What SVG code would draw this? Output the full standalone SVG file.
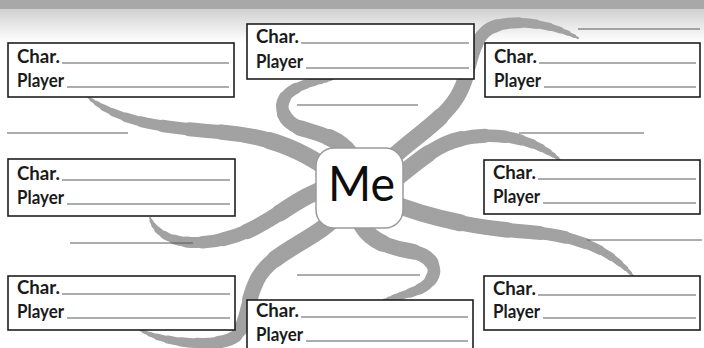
<svg xmlns="http://www.w3.org/2000/svg" width="704" height="348" viewBox="0 0 704 348">
<defs>
<linearGradient id="hdr" x1="0" y1="0" x2="0" y2="1">
<stop offset="0" stop-color="#cfcfcf"/>
<stop offset="1" stop-color="#ffffff"/>
</linearGradient>
<style>
.box{fill:#fff;stroke:#1e1e1e;stroke-width:1.6}
.lbl{font-family:Lato,"Liberation Sans",sans-serif;font-weight:bold;font-size:19px;fill:#1a1a1a}
.ln{stroke:#5a5a5a;stroke-width:1}
.arm use{fill:none;stroke:#a2a2a2;stroke-linecap:round;stroke-linejoin:round}
.l1{stroke-width:17;stroke-dasharray:30 300}
.l2{stroke-width:15.5;stroke-dasharray:48 300}
.l3{stroke-width:14;stroke-dasharray:60 300}
.l4{stroke-width:12.5;stroke-dasharray:70 300}
.l5{stroke-width:11;stroke-dasharray:78 300}
.l6{stroke-width:9.5;stroke-dasharray:84 300}
.l7{stroke-width:8;stroke-dasharray:89 300}
.l8{stroke-width:6.5;stroke-dasharray:93 300}
.l9{stroke-width:5;stroke-dasharray:96 300}
.l10{stroke-width:3.5;stroke-dasharray:98.5 300}
.l11{stroke-width:2}
.me{fill:#fff;stroke:#9a9a9a;stroke-width:1.5}
.metxt{font-family:Lato,"Liberation Sans",sans-serif;font-size:48px;fill:#0d0d0d}
</style>
<path id="a1" pathLength="100" d="M 340,178 C 305,150 270,136 220,132 C 170,128 120,124 88,97"/>
<path id="a2" pathLength="100" d="M 358,178 C 356,140 322,135 300,128 C 280,121 276,100 293,90 C 306,82 320,81 333,79"/>
<path id="a3" pathLength="100" d="M 378,172 C 400,145 440,125 457,97 C 472,72 468,48 485,32 C 500,18 545,20 578,38"/>
<path id="a4" pathLength="100" d="M 380,190 C 410,170 430,146 460,139 C 500,130 535,140 560,160"/>
<path id="a5" pathLength="100" d="M 385,200 C 420,215 470,228 530,232 C 580,236 612,252 633,276"/>
<path id="a6" pathLength="100" d="M 356,200 C 356,235 380,246 410,251 C 442,257 440,282 415,291 C 405,295 393,298 382,301"/>
<path id="a7" pathLength="100" d="M 340,212 C 318,240 272,250 257,280 C 246,302 248,322 236,336 C 220,348 170,345 140,330"/>
<path id="a8" pathLength="100" d="M 335,185 C 300,195 280,216 250,230 C 220,244 186,246 168,237 C 158,232 153,226 150,218"/>
</defs>
<rect x="0" y="0" width="704" height="348" fill="#fff"/>
<rect x="0" y="8" width="704" height="34" fill="url(#hdr)"/>
<rect x="0" y="0" width="704" height="9" fill="#a8a8a8"/>

<g id="connectors" class="arm">
<use href="#a1" class="l1"/><use href="#a1" class="l2"/><use href="#a1" class="l3"/><use href="#a1" class="l4"/><use href="#a1" class="l5"/><use href="#a1" class="l6"/><use href="#a1" class="l7"/><use href="#a1" class="l8"/><use href="#a1" class="l9"/><use href="#a1" class="l10"/><use href="#a1" class="l11"/>
<use href="#a2" class="l1"/><use href="#a2" class="l2"/><use href="#a2" class="l3"/><use href="#a2" class="l4"/><use href="#a2" class="l5"/><use href="#a2" class="l6"/><use href="#a2" class="l7"/><use href="#a2" class="l8"/><use href="#a2" class="l9"/><use href="#a2" class="l10"/><use href="#a2" class="l11"/>
<use href="#a3" class="l1"/><use href="#a3" class="l2"/><use href="#a3" class="l3"/><use href="#a3" class="l4"/><use href="#a3" class="l5"/><use href="#a3" class="l6"/><use href="#a3" class="l7"/><use href="#a3" class="l8"/><use href="#a3" class="l9"/><use href="#a3" class="l10"/><use href="#a3" class="l11"/>
<use href="#a4" class="l1"/><use href="#a4" class="l2"/><use href="#a4" class="l3"/><use href="#a4" class="l4"/><use href="#a4" class="l5"/><use href="#a4" class="l6"/><use href="#a4" class="l7"/><use href="#a4" class="l8"/><use href="#a4" class="l9"/><use href="#a4" class="l10"/><use href="#a4" class="l11"/>
<use href="#a5" class="l1"/><use href="#a5" class="l2"/><use href="#a5" class="l3"/><use href="#a5" class="l4"/><use href="#a5" class="l5"/><use href="#a5" class="l6"/><use href="#a5" class="l7"/><use href="#a5" class="l8"/><use href="#a5" class="l9"/><use href="#a5" class="l10"/><use href="#a5" class="l11"/>
<use href="#a6" class="l1"/><use href="#a6" class="l2"/><use href="#a6" class="l3"/><use href="#a6" class="l4"/><use href="#a6" class="l5"/><use href="#a6" class="l6"/><use href="#a6" class="l7"/><use href="#a6" class="l8"/><use href="#a6" class="l9"/><use href="#a6" class="l10"/><use href="#a6" class="l11"/>
<use href="#a7" class="l1"/><use href="#a7" class="l2"/><use href="#a7" class="l3"/><use href="#a7" class="l4"/><use href="#a7" class="l5"/><use href="#a7" class="l6"/><use href="#a7" class="l7"/><use href="#a7" class="l8"/><use href="#a7" class="l9"/><use href="#a7" class="l10"/><use href="#a7" class="l11"/>
<use href="#a8" class="l1"/><use href="#a8" class="l2"/><use href="#a8" class="l3"/><use href="#a8" class="l4"/><use href="#a8" class="l5"/><use href="#a8" class="l6"/><use href="#a8" class="l7"/><use href="#a8" class="l8"/><use href="#a8" class="l9"/><use href="#a8" class="l10"/><use href="#a8" class="l11"/>
</g>

<g id="blank-lines" class="ln">
<line x1="578" y1="29" x2="700" y2="29"/>
<line x1="297" y1="105" x2="418" y2="105"/>
<line x1="7" y1="133" x2="128" y2="133"/>
<line x1="519" y1="133" x2="644" y2="133"/>
<line x1="587" y1="240" x2="702" y2="240"/>
<line x1="70" y1="243" x2="193" y2="243"/>
<line x1="297" y1="275" x2="420" y2="275"/>
</g>

<g id="me">
<rect class="me" x="316" y="148" width="87" height="80" rx="18"/>
<text class="metxt" x="361.5" y="201" text-anchor="middle" textLength="67" lengthAdjust="spacingAndGlyphs">Me</text>
</g>

<g id="box-1">
<rect class="box" x="8" y="43" width="226" height="54"/>
<text class="lbl" x="17" y="63" textLength="43" lengthAdjust="spacingAndGlyphs">Char.</text>
<text class="lbl" x="17" y="87" textLength="47" lengthAdjust="spacingAndGlyphs">Player</text>
<line class="ln" x1="62" y1="63" x2="229" y2="63"/><line class="ln" x1="67" y1="87" x2="229" y2="87"/>
</g>
<g id="box-2">
<rect class="box" x="247" y="24" width="227" height="55"/>
<text class="lbl" x="256" y="43" textLength="43" lengthAdjust="spacingAndGlyphs">Char.</text>
<text class="lbl" x="256" y="68" textLength="47" lengthAdjust="spacingAndGlyphs">Player</text>
<line class="ln" x1="301" y1="43" x2="469" y2="43"/><line class="ln" x1="306" y1="68" x2="469" y2="68"/>
</g>
<g id="box-3">
<rect class="box" x="485" y="43" width="215" height="54"/>
<text class="lbl" x="494" y="63" textLength="43" lengthAdjust="spacingAndGlyphs">Char.</text>
<text class="lbl" x="494" y="87" textLength="47" lengthAdjust="spacingAndGlyphs">Player</text>
<line class="ln" x1="539" y1="63" x2="696" y2="63"/><line class="ln" x1="544" y1="87" x2="696" y2="87"/>
</g>
<g id="box-4">
<rect class="box" x="8" y="159" width="227" height="57"/>
<text class="lbl" x="17" y="180" textLength="43" lengthAdjust="spacingAndGlyphs">Char.</text>
<text class="lbl" x="17" y="204" textLength="47" lengthAdjust="spacingAndGlyphs">Player</text>
<line class="ln" x1="62" y1="180" x2="230" y2="180"/><line class="ln" x1="67" y1="204" x2="230" y2="204"/>
</g>
<g id="box-5">
<rect class="box" x="484" y="160" width="216" height="54"/>
<text class="lbl" x="493" y="179" textLength="43" lengthAdjust="spacingAndGlyphs">Char.</text>
<text class="lbl" x="493" y="203" textLength="47" lengthAdjust="spacingAndGlyphs">Player</text>
<line class="ln" x1="538" y1="179" x2="696" y2="179"/><line class="ln" x1="543" y1="203" x2="696" y2="203"/>
</g>
<g id="box-6">
<rect class="box" x="8" y="276" width="227" height="54"/>
<text class="lbl" x="17" y="294" textLength="43" lengthAdjust="spacingAndGlyphs">Char.</text>
<text class="lbl" x="17" y="318" textLength="47" lengthAdjust="spacingAndGlyphs">Player</text>
<line class="ln" x1="62" y1="294" x2="230" y2="294"/><line class="ln" x1="67" y1="318" x2="230" y2="318"/>
</g>
<g id="box-7">
<rect class="box" x="247" y="300" width="226" height="60"/>
<text class="lbl" x="256" y="317" textLength="43" lengthAdjust="spacingAndGlyphs">Char.</text>
<text class="lbl" x="256" y="341" textLength="47" lengthAdjust="spacingAndGlyphs">Player</text>
<line class="ln" x1="301" y1="317" x2="468" y2="317"/><line class="ln" x1="306" y1="341" x2="468" y2="341"/>
</g>
<g id="box-8">
<rect class="box" x="484" y="276" width="216" height="54"/>
<text class="lbl" x="493" y="295" textLength="43" lengthAdjust="spacingAndGlyphs">Char.</text>
<text class="lbl" x="493" y="318" textLength="47" lengthAdjust="spacingAndGlyphs">Player</text>
<line class="ln" x1="538" y1="295" x2="696" y2="295"/><line class="ln" x1="543" y1="318" x2="696" y2="318"/>
</g>
</svg>
